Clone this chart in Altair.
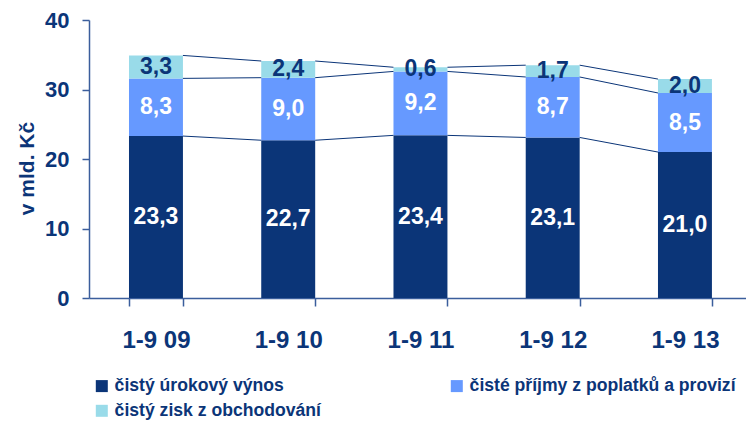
import altair as alt
import pandas as pd

categories = ["1-9 09", "1-9 10", "1-9 11", "1-9 12", "1-9 13"]
series = ["čistý úrokový výnos", "čisté příjmy z poplatků a provizí", "čistý zisk z obchodování"]
urokovy = [23.3, 22.7, 23.4, 23.1, 21.0]
poplatky = [8.3, 9.0, 9.2, 8.7, 8.5]
obchodovani = [3.3, 2.4, 0.6, 1.7, 2.0]

NAVY = "#0B3578"
colors = [NAVY, "#6699FF", "#99DBE9"]
label_colors = ["white", "white", NAVY]
AXIS = "#3B5E9C"
FONT = "Liberation Sans"

rows = []
for i, c in enumerate(categories):
    vals = [urokovy[i], poplatky[i], obchodovani[i]]
    base = 0.0
    for k, (s, v) in enumerate(zip(series, vals)):
        rows.append(dict(cat=c, series=s, order=k, value=v, y0=base, y1=base + v,
                         mid=base + v / 2, label=f"{v:.1f}".replace(".", ","),
                         lc=label_colors[k]))
        base += v
df = pd.DataFrame(rows)

conn = []
for i in range(len(categories) - 1):
    for k in range(3):
        a = df[(df.cat == categories[i]) & (df.order == k)].y1.iloc[0]
        b = df[(df.cat == categories[i + 1]) & (df.order == k)].y1.iloc[0]
        conn.append(dict(cat=categories[i], nxt=categories[i + 1], ya=a, yb=b))
cdf = pd.DataFrame(conn)

# legend is filled column by column: reorder so rows read as in the reference
legend_order = [series[0], series[2], series[1]]
legend_colors = [colors[0], colors[2], colors[1]]

xscale = alt.Scale(domain=categories, paddingInner=0.592, paddingOuter=0.28, align=0.54)
yscale = alt.Scale(domain=[0, 40])

xaxis = alt.Axis(title=None, bandPosition=0.5)
yaxis = alt.Axis(title="v mld. Kč", values=[0, 10, 20, 30, 40])

bars = alt.Chart(df).mark_bar().encode(
    x=alt.X("cat:N", scale=xscale, axis=xaxis, sort=categories),
    y=alt.Y("y0:Q", scale=yscale, axis=yaxis),
    y2="y1:Q",
    color=alt.Color("series:N",
                    scale=alt.Scale(domain=legend_order, range=legend_colors),
                    legend=alt.Legend(title=None, orient="none", legendX=4,
                                      legendY=357, columns=2, columnPadding=127,
                                      rowPadding=6, symbolType="square",
                                      symbolSize=144, symbolStrokeWidth=0,
                                      labelFontSize=17.6, labelFont=FONT,
                                      labelFontWeight="bold", labelColor=NAVY,
                                      labelOffset=4, padding=0, symbolOffset=0,
                                      labelLimit=400)),
)

texts = alt.Chart(df).mark_text(font=FONT, fontSize=23, fontWeight="bold",
                                baseline="middle", align="center").encode(
    x=alt.X("cat:N", scale=xscale, sort=categories),
    y=alt.Y("mid:Q", scale=yscale),
    text="label:N",
    color=alt.Color("lc:N", scale=None, legend=None),
)

rules = alt.Chart(cdf).mark_rule(color=NAVY, strokeWidth=1).encode(
    x=alt.X("cat:N", scale=xscale, sort=categories, bandPosition=1),
    x2=alt.X2("nxt", bandPosition=0),
    y=alt.Y("ya:Q", scale=yscale),
    y2="yb:Q",
)

chart = alt.layer(bars, rules, texts).properties(
    width=657, height=278,
    padding={"left": 81, "top": 12, "right": 0, "bottom": 123},
    autosize=alt.AutoSizeParams(type="none"),
).configure_view(stroke=None).configure_axis(
    domainColor=AXIS, tickColor=AXIS, domainWidth=1.5, tickWidth=1.5,
    labelFont=FONT, labelFontWeight="bold", labelColor=NAVY, grid=False,
    titleFont=FONT, titleFontWeight="bold", titleColor=NAVY,
).configure_axisX(
    labelAngle=0, tickBand="extent", bandPosition=0.5, tickSize=8,
    labelPadding=22, labelFontSize=24,
).configure_axisY(
    tickSize=7, labelPadding=13, labelFontSize=22, titleFontSize=21,
    titleX=-62, titleY=148, titleAngle=-90, titleAlign="center",
    titleBaseline="middle",
)

chart.save("out.html", embed_options={"renderer": "svg", "actions": False})
